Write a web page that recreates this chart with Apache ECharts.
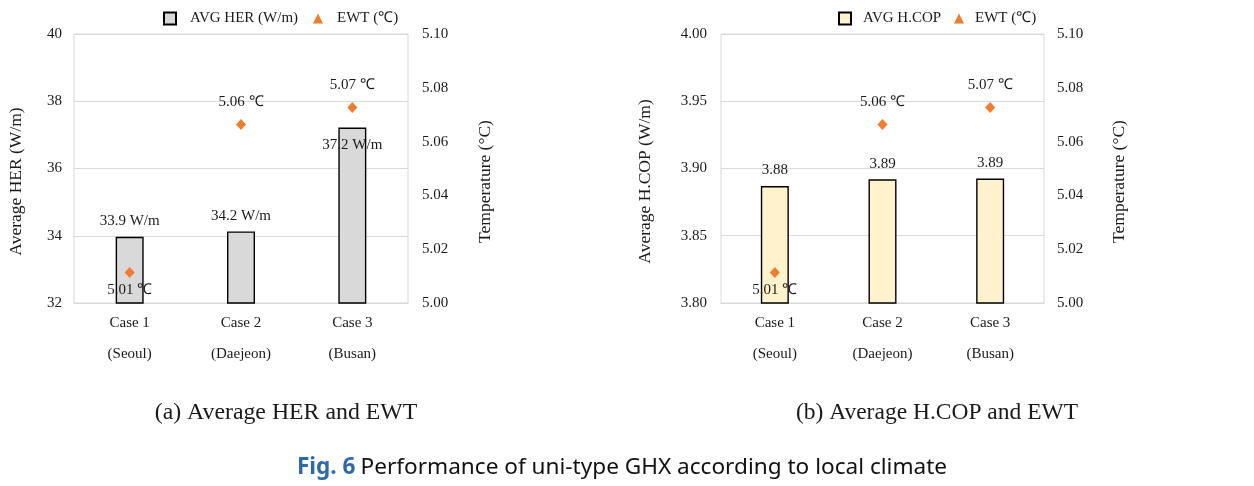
<!DOCTYPE html>
<html>
<head>
<meta charset="utf-8">
<script src="https://cdn.jsdelivr.net/npm/echarts@6/dist/echarts.min.js"></script>
<style>html,body{margin:0;padding:0;background:#fff;}#c{width:1254px;height:486px;}</style>
</head>
<body>
<div id="c"></div>
<script>
const categories = ['Case 1\n(Seoul)', 'Case 2\n(Daejeon)', 'Case 3\n(Busan)'];
const herValues = [33.97, 34.13, 37.22];
const herLabels = ['33.9 W/m', '34.2 W/m', '37.2 W/m'];
const copValues = [3.887, 3.892, 3.8925];
const copLabels = ['3.88', '3.89', '3.89'];
const ewtValues = [5.0113, 5.0664, 5.0727];
const ewtLabels = ['5.01 ℃', '5.06 ℃', '5.07 ℃'];
const herTicks = {min: 32, max: 40, interval: 2};
const copTicks = {min: 3.80, max: 4.00, interval: 0.05};
const ewtTicks = {min: 5.00, max: 5.10, interval: 0.02};

const serif = '"Liberation Serif", "Times New Roman", serif';
const txt = '#1a1a1a';
const gridColor = '#d9d9d9';
const orange = '#ED7D31';

function xAxis(gi){
  return {
    type: 'category', gridIndex: gi, data: categories,
    axisTick: {show: false},
    axisLine: {show: true, lineStyle: {color: gridColor}},
    axisLabel: {color: txt, fontFamily: serif, fontSize: 15, lineHeight: 31, margin: 5}
  };
}
function yAxis(gi, t, pos, name, gap, dec, labelMargin){
  return {
    type: 'value', gridIndex: gi, position: pos, min: t.min, max: t.max, interval: t.interval,
    name: name, nameLocation: 'middle', nameGap: gap, nameRotate: 90,
    nameTextStyle: {color: txt, fontFamily: serif, fontSize: 17.5, padding: [0, 26, 0, 0]},
    axisLine: {show: false}, axisTick: {show: false},
    splitLine: {show: pos === 'left', lineStyle: {color: gridColor, width: 1}},
    axisLabel: {color: txt, fontFamily: serif, fontSize: 15, margin: labelMargin,
      formatter: v => v.toFixed(dec)}
  };
}
function ewtSeries(xi, yi){
  return {
    name: 'EWT (℃)', type: 'scatter', xAxisIndex: xi, yAxisIndex: yi,
    symbol: 'diamond', symbolSize: [10, 11], itemStyle: {color: orange, opacity: 1},
    z: 5,
    data: ewtValues.map((v, i) => ({
      value: v,
      label: {show: true, position: i === 0 ? 'bottom' : 'top', distance: i === 0 ? 4 : 9, opacity: 1,
        formatter: () => ewtLabels[i], color: txt, fontFamily: serif, fontSize: 15}
    }))
  };
}
function barSeries(name, xi, yi, values, labels, color, insideIdx){
  return {
    name: name, type: 'bar', xAxisIndex: xi, yAxisIndex: yi, barWidth: 28,
    itemStyle: {color: color, borderColor: '#000', borderWidth: 1.4},
    data: values.map((v, i) => ({
      value: v,
      label: {show: true, position: i === insideIdx ? 'insideTop' : 'top', distance: i === insideIdx ? 10 : 8,
        formatter: () => labels[i], color: txt, fontFamily: serif, fontSize: 15}
    }))
  };
}
function legend(left, name, icon, w, h, pad){
  return {
    left: left, top: 11, padding: 0, itemWidth: w, itemHeight: h, selectedMode: false,
    data: [{name: name, icon: icon}],
    textStyle: {color: txt, fontFamily: serif, fontSize: 15, padding: [0, 0, 0, pad]}
  };
}

const chart = echarts.init(document.getElementById('c'), null, {renderer: 'canvas'});
chart.setOption({
  backgroundColor: '#fff',
  animation: false,
  grid: [
    {left: 74, top: 34, width: 334, height: 269, show: true, borderColor: gridColor, borderWidth: 1},
    {left: 721, top: 34, width: 323, height: 269, show: true, borderColor: gridColor, borderWidth: 1}
  ],
  xAxis: [xAxis(0), xAxis(1)],
  yAxis: [
    yAxis(0, herTicks, 'left', 'Average HER (W/m)', 49, 0, 12),
    yAxis(0, ewtTicks, 'right', 'Temperature (°C)', 68, 2, 14),
    yAxis(1, copTicks, 'left', 'Average H.COP (W/m)', 67, 2, 14),
    yAxis(1, ewtTicks, 'right', 'Temperature (°C)', 66, 2, 13)
  ],
  legend: [
    legend(163, 'AVG HER (W/m)', 'rect', 12, 12, 9),
    legend(313, 'EWT (℃)', 'triangle', 10, 10, 9),
    legend(838, 'AVG H.COP', 'rect', 12, 12, 7),
    legend(954, 'EWT (℃)', 'triangle', 10, 10, 6)
  ],
  title: [
    {text: '(a) Average HER and EWT', left: 281, top: 396, textAlign: 'center',
      textStyle: {color: txt, fontFamily: serif, fontSize: 23.8, fontWeight: 'normal'}},
    {text: '(b) Average H.COP and EWT', left: 932, top: 396, textAlign: 'center',
      textStyle: {color: txt, fontFamily: serif, fontSize: 23.5, fontWeight: 'normal'}},
    {text: '{a|Fig. 6} {b|Performance of uni-type GHX according to local climate}', left: 617, top: 451, textAlign: 'center',
      textStyle: {fontWeight: 'normal', rich: {
        a: {color: '#2f6aa6', fontFamily: '"Noto Sans", sans-serif', fontSize: 22.6, fontWeight: 'bold'},
        b: {color: '#111', fontFamily: '"Noto Sans", sans-serif', fontSize: 22.6, fontWeight: 'normal'}
      }}}
  ],
  series: [
    barSeries('AVG HER (W/m)', 0, 0, herValues, herLabels, '#d9d9d9', 2),
    ewtSeries(0, 1),
    barSeries('AVG H.COP', 1, 2, copValues, copLabels, '#fff2cc', -1),
    ewtSeries(1, 3)
  ]
});
</script>
</body>
</html>
